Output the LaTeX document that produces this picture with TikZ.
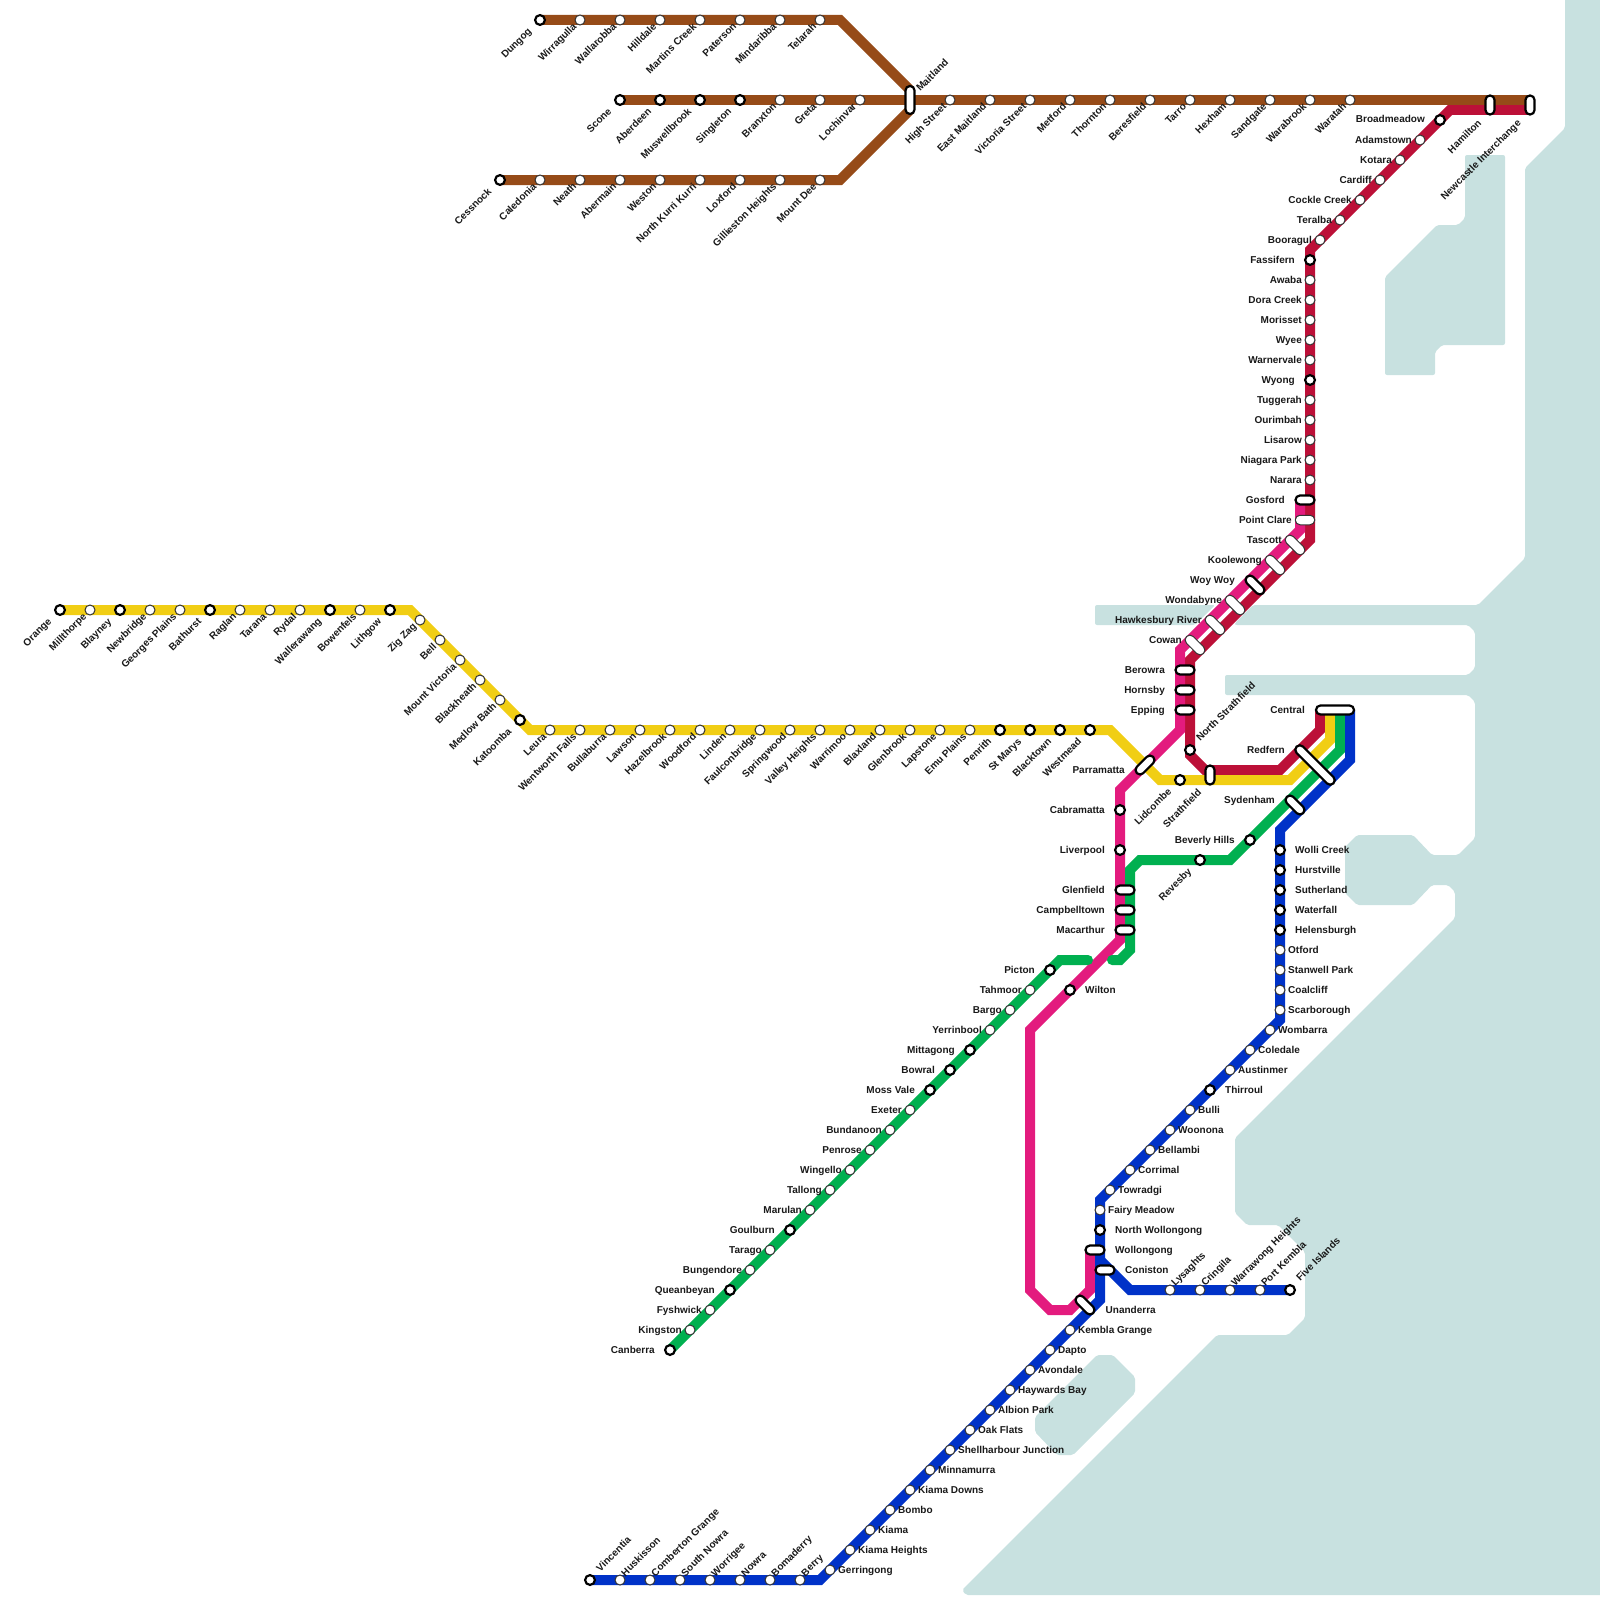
\documentclass[tikz,border=0pt]{standalone}
\usepackage{fontspec}
\setmainfont{Liberation Sans}
\usetikzlibrary{calc}
\pgfdeclarelayer{water}
\pgfdeclarelayer{lines}
\pgfsetlayers{water,lines,main}
\definecolor{cwater}{HTML}{C8E1E0}
\definecolor{cbrown}{HTML}{964B18}
\definecolor{cyellow}{HTML}{F1CE14}
\definecolor{cred}{HTML}{BC1038}
\definecolor{cmag}{HTML}{E31B7E}
\definecolor{cgreen}{HTML}{00B050}
\definecolor{cblue}{HTML}{0032C8}
\definecolor{cring}{HTML}{333333}
\tikzset{
  sb/.style={circle,draw=black,line width=2.2pt,fill=white,minimum size=9.8pt,inner sep=0pt},
  sg/.style={circle,draw=cring,line width=1pt,fill=white,minimum size=10pt,inner sep=0pt},
  pb/.style={rectangle,draw=black,line width=2.2pt,fill=white,minimum height=9pt,rounded corners=4.4pt,inner sep=0pt},
  pg/.style={rectangle,draw=cring,line width=1pt,fill=white,minimum height=9.5pt,rounded corners=4.7pt,inner sep=0pt},
  lab/.style={font=\fontsize{10}{12}\selectfont\bfseries,text=black!90,inner sep=0pt,text height=6pt,text depth=0pt},
  dlg/.style={xshift=-5pt,yshift=-5pt,rotate=45,anchor=east},
  dlb/.style={xshift=-10pt,yshift=-10pt,rotate=45,anchor=east},
  urg/.style={xshift=3pt,yshift=5pt,rotate=45,anchor=west},
  urb/.style={xshift=8pt,yshift=10pt,rotate=45,anchor=west},
  rg/.style={xshift=8pt,anchor=west},
  rb/.style={xshift=15pt,anchor=west},
  lg/.style={xshift=-8pt,anchor=east},
  lb/.style={xshift=-15pt,anchor=east},
  rail/.style={line width=10pt,line join=miter,line cap=butt},
  sea/.style={fill=cwater,draw=none,rounded corners=2pt}
}
\newcommand{\sta}[6]{\node[#1] (#2) at (#3,#4) {}; \node[lab,#5] (#2-t) at (#3,#4) {#6};}
\newcommand{\pil}[6]{\node[#1,minimum width=#5pt,rotate=#6] (#2) at (#3,#4) {};}
\newcommand{\lbl}[5]{\node[lab,#4] (#1-t) at (#2,#3) {#5};}
\begin{document}
\begin{tikzpicture}[x=1pt,y=-1pt]
\useasboundingbox (0,0) rectangle (1600,1600);
% water
\begin{pgfonlayer}{water}
\fill[sea] (1600,-5) -- (1565,-5) -- (1565,128) -- (1525,168) -- (1525,558) -- (1478,605) -- (1253,605) -- (1235,623) -- (1235,625) -- (1468,625) -- (1475,632) -- (1475,668) -- (1468,675) -- (1225,675) -- (1225,695) -- (1468,695) -- (1475,702) -- (1475,838) -- (1458,855) -- (1432,855) -- (1413,835) -- (1357,835) -- (1345,847) -- (1345,893) -- (1357,905) -- (1413,905) -- (1432,885) -- (1448,885) -- (1455,892) -- (1455,918) -- (1235,1138) -- (1235,1213) -- (1247,1225) -- (1278,1225) -- (1305,1252) -- (1305,1318) -- (1288,1335) -- (1217,1335) -- (962,1590) -- (966,1595) -- (1605,1595) -- (1605,-5) -- cycle;
\fill[sea] (1095,605) -- (1215,605) -- (1195,625) -- (1095,625) -- cycle;
\fill[sea] (1465,155) -- (1505,155) -- (1505,345) -- (1442,345) -- (1435,352) -- (1435,375) -- (1385,375) -- (1385,277) -- (1437,225) -- (1458,225) -- (1465,218) -- cycle;
\fill[sea] (1097,1355) -- (1113,1355) -- (1135,1377) -- (1135,1393) -- (1073,1455) -- (1057,1455) -- (1035,1432) -- (1035,1417) -- cycle;
\end{pgfonlayer}
% corner coordinates
\coordinate (bA) at (840,20); \coordinate (bB) at (910,90);
\coordinate (bC) at (840,180); \coordinate (bD) at (910,110);
\coordinate (yA) at (410,610); \coordinate (yB) at (530,730); \coordinate (yC) at (1110,730); \coordinate (yD) at (1160,780); \coordinate (yE) at (1290,780); \coordinate (yF) at (1330,740); \coordinate (yG) at (1330,710);
\coordinate (rA) at (1530,110); \coordinate (rB) at (1450,110); \coordinate (rC) at (1310,250); \coordinate (rD) at (1310,540); \coordinate (rE) at (1190,660); \coordinate (rF) at (1190,755); \coordinate (rG) at (1205,770); \coordinate (rH) at (1280,770); \coordinate (rI) at (1320,730); \coordinate (rJ) at (1320,710);
\coordinate (mA) at (1300,500); \coordinate (mB) at (1300,530); \coordinate (mC) at (1180,650); \coordinate (mD) at (1180,730); \coordinate (mE) at (1120,790); \coordinate (mF) at (1120,940); \coordinate (mG) at (1030,1030); \coordinate (mH) at (1030,1290); \coordinate (mI) at (1050,1310); \coordinate (mJ) at (1070,1310); \coordinate (mK) at (1090,1290); \coordinate (mL) at (1090,1250);
\coordinate (gA) at (1060,960); \coordinate (gB) at (1088,960); \coordinate (gC) at (1112,960); \coordinate (gD) at (1120,960); \coordinate (gE) at (1130,950); \coordinate (gF) at (1130,870); \coordinate (gG) at (1140,860); \coordinate (gH) at (1230,860); \coordinate (gI) at (1340,750); \coordinate (gJ) at (1340,710);
\coordinate (uA) at (820,1580); \coordinate (uB) at (1100,1300); \coordinate (uC) at (1100,1200); \coordinate (uD) at (1280,1020); \coordinate (uE) at (1280,830); \coordinate (uF) at (1350,760); \coordinate (uG) at (1350,710); \coordinate (uH) at (1100,1260); \coordinate (uI) at (1130,1290);
% brown top
\sta{sb}{dungog}{540}{20}{dlb}{Dungog}
\sta{sg}{wirragulla}{580}{20}{dlg}{Wirragulla}
\sta{sg}{wallarobba}{620}{20}{dlg}{Wallarobba}
\sta{sg}{hilldale}{660}{20}{dlg}{Hilldale}
\sta{sg}{martins}{700}{20}{dlg}{Martins Creek}
\sta{sg}{paterson}{740}{20}{dlg}{Paterson}
\sta{sg}{mindaribba}{780}{20}{dlg}{Mindaribba}
\sta{sg}{telarah}{820}{20}{dlg}{Telarah}
% brown middle
\sta{sb}{scone}{620}{100}{dlb}{Scone}
\sta{sb}{aberdeen}{660}{100}{dlb}{Aberdeen}
\sta{sb}{muswellbrook}{700}{100}{dlb}{Muswellbrook}
\sta{sb}{singleton}{740}{100}{dlb}{Singleton}
\sta{sg}{branxton}{780}{100}{dlg}{Branxton}
\sta{sg}{greta}{820}{100}{dlg}{Greta}
\sta{sg}{lochinvar}{860}{100}{dlg}{Lochinvar}
\pil{pb}{maitland}{910}{100}{28}{90}
\lbl{maitland}{918}{90}{rotate=45,anchor=west}{Maitland}
\sta{sg}{highst}{950}{100}{dlg}{High Street}
\sta{sg}{eastmaitland}{990}{100}{dlg}{East Maitland}
\sta{sg}{victoriast}{1030}{100}{dlg}{Victoria Street}
\sta{sg}{metford}{1070}{100}{dlg}{Metford}
\sta{sg}{thornton}{1110}{100}{dlg}{Thornton}
\sta{sg}{beresfield}{1150}{100}{dlg}{Beresfield}
\sta{sg}{tarro}{1190}{100}{dlg}{Tarro}
\sta{sg}{hexham}{1230}{100}{dlg}{Hexham}
\sta{sg}{sandgate}{1270}{100}{dlg}{Sandgate}
\sta{sg}{warabrook}{1310}{100}{dlg}{Warabrook}
\sta{sg}{waratah}{1350}{100}{dlg}{Waratah}
\pil{pb}{hamilton}{1490}{105}{19}{90}
\lbl{hamilton}{1480}{121.5}{rotate=45,anchor=east}{Hamilton}
\pil{pb}{newcastle}{1530}{105}{19}{90}
\lbl{newcastle}{1519.5}{121.5}{rotate=45,anchor=east}{Newcastle Interchange}
% brown lower
\sta{sb}{cessnock}{500}{180}{dlb}{Cessnock}
\sta{sg}{caledonia}{540}{180}{dlg}{Caledonia}
\sta{sg}{neath}{580}{180}{dlg}{Neath}
\sta{sg}{abermain}{620}{180}{dlg}{Abermain}
\sta{sg}{weston}{660}{180}{dlg}{Weston}
\sta{sg}{kurri}{700}{180}{dlg}{North Kurri Kurri}
\sta{sg}{loxford}{740}{180}{dlg}{Loxford}
\sta{sg}{gillieston}{780}{180}{dlg}{Gillieston Heights}
\sta{sg}{mountdee}{820}{180}{dlg}{Mount Dee}
% yellow
\sta{sb}{orange}{60}{610}{dlb}{Orange}
\sta{sg}{millthorpe}{90}{610}{dlg}{Millthorpe}
\sta{sb}{blayney}{120}{610}{dlb}{Blayney}
\sta{sg}{newbridge}{150}{610}{dlg}{Newbridge}
\sta{sg}{georges}{180}{610}{dlg}{Georges Plains}
\sta{sb}{bathurst}{210}{610}{dlb}{Bathurst}
\sta{sg}{raglan}{240}{610}{dlg}{Raglan}
\sta{sg}{tarana}{270}{610}{dlg}{Tarana}
\sta{sg}{rydal}{300}{610}{dlg}{Rydal}
\sta{sb}{wallerawang}{330}{610}{dlb}{Wallerawang}
\sta{sg}{bowenfels}{360}{610}{dlg}{Bowenfels}
\sta{sb}{lithgow}{390}{610}{dlb}{Lithgow}
\sta{sg}{zigzag}{420}{620}{dlg}{Zig Zag}
\sta{sg}{bell}{440}{640}{dlg}{Bell}
\sta{sg}{mtvictoria}{460}{660}{dlg}{Mount Victoria}
\sta{sg}{blackheath}{480}{680}{dlg}{Blackheath}
\sta{sg}{medlow}{500}{700}{dlg}{Medlow Bath}
\sta{sb}{katoomba}{520}{720}{dlb}{Katoomba}
\sta{sg}{leura}{550}{730}{dlg}{Leura}
\sta{sg}{wentworth}{580}{730}{dlg}{Wentworth Falls}
\sta{sg}{bullaburra}{610}{730}{dlg}{Bullaburra}
\sta{sg}{lawson}{640}{730}{dlg}{Lawson}
\sta{sg}{hazelbrook}{670}{730}{dlg}{Hazelbrook}
\sta{sg}{woodford}{700}{730}{dlg}{Woodford}
\sta{sg}{linden}{730}{730}{dlg}{Linden}
\sta{sg}{faulconbridge}{760}{730}{dlg}{Faulconbridge}
\sta{sg}{springwood}{790}{730}{dlg}{Springwood}
\sta{sg}{valley}{820}{730}{dlg}{Valley Heights}
\sta{sg}{warrimoo}{850}{730}{dlg}{Warrimoo}
\sta{sg}{blaxland}{880}{730}{dlg}{Blaxland}
\sta{sg}{glenbrook}{910}{730}{dlg}{Glenbrook}
\sta{sg}{lapstone}{940}{730}{dlg}{Lapstone}
\sta{sg}{emuplains}{970}{730}{dlg}{Emu Plains}
\sta{sb}{penrith}{1000}{730}{dlb}{Penrith}
\sta{sb}{stmarys}{1030}{730}{dlb}{St Marys}
\sta{sb}{blacktown}{1060}{730}{dlb}{Blacktown}
\sta{sb}{westmead}{1090}{730}{dlb}{Westmead}
\pil{pb}{parramatta}{1145}{765}{23}{45}
\lbl{parramatta}{1125}{770}{anchor=east}{Parramatta}
\sta{sb}{lidcombe}{1180}{780}{dlb}{Lidcombe}
\pil{pb}{strathfield}{1210}{775}{19}{90}
\lbl{strathfield}{1200}{791}{rotate=45,anchor=east}{Strathfield}
\sta{sb}{northstrath}{1190}{750}{urb}{North Strathfield}
% red
\sta{sb}{fassifern}{1310}{260}{lb}{Fassifern}
\sta{sg}{awaba}{1310}{280}{lg}{Awaba}
\sta{sg}{doracreek}{1310}{300}{lg}{Dora Creek}
\sta{sg}{morisset}{1310}{320}{lg}{Morisset}
\sta{sg}{wyee}{1310}{340}{lg}{Wyee}
\sta{sg}{warnervale}{1310}{360}{lg}{Warnervale}
\sta{sb}{wyong}{1310}{380}{lb}{Wyong}
\sta{sg}{tuggerah}{1310}{400}{lg}{Tuggerah}
\sta{sg}{ourimbah}{1310}{420}{lg}{Ourimbah}
\sta{sg}{lisarow}{1310}{440}{lg}{Lisarow}
\sta{sg}{niagara}{1310}{460}{lg}{Niagara Park}
\sta{sg}{narara}{1310}{480}{lg}{Narara}
\sta{sg}{booragul}{1320}{240}{lg}{Booragul}
\sta{sg}{teralba}{1340}{220}{lg}{Teralba}
\sta{sg}{cockle}{1360}{200}{lg}{Cockle Creek}
\sta{sg}{cardiff}{1380}{180}{lg}{Cardiff}
\sta{sg}{kotara}{1400}{160}{lg}{Kotara}
\sta{sg}{adamstown}{1420}{140}{lg}{Adamstown}
\sta{sb}{broadmeadow}{1440}{120}{lb}{Broadmeadow}
\pil{pb}{gosford}{1305}{500}{19}{0}
\lbl{gosford}{1285}{500}{anchor=east}{Gosford}
\pil{pg}{pointclare}{1305}{520}{19.5}{0}
\lbl{pointclare}{1292}{520}{anchor=east}{Point Clare}
\pil{pg}{tascott}{1295}{545}{24}{-45}
\lbl{tascott}{1282}{540}{anchor=east}{Tascott}
\pil{pg}{koolewong}{1275}{565}{24}{-45}
\lbl{koolewong}{1262}{560}{anchor=east}{Koolewong}
\pil{pb}{woywoy}{1255}{585}{23}{-45}
\lbl{woywoy}{1235}{580}{anchor=east}{Woy Woy}
\pil{pg}{wondabyne}{1235}{605}{24}{-45}
\lbl{wondabyne}{1222}{600}{anchor=east}{Wondabyne}
\pil{pg}{hawkesbury}{1215}{625}{24}{-45}
\lbl{hawkesbury}{1202}{620}{anchor=east}{Hawkesbury River}
\pil{pg}{cowan}{1195}{645}{24}{-45}
\lbl{cowan}{1182}{640}{anchor=east}{Cowan}
\pil{pb}{berowra}{1185}{670}{19}{0}
\lbl{berowra}{1165}{670}{anchor=east}{Berowra}
\pil{pb}{hornsby}{1185}{690}{19}{0}
\lbl{hornsby}{1165}{690}{anchor=east}{Hornsby}
\pil{pb}{epping}{1185}{710}{19}{0}
\lbl{epping}{1165}{710}{anchor=east}{Epping}
\pil{pb}{central}{1335}{710}{38}{0}
\lbl{central}{1305}{710}{anchor=east}{Central}
\pil{pb}{redfern}{1315}{765}{52}{-45}
\lbl{redfern}{1285}{750}{anchor=east}{Redfern}
\pil{pb}{sydenham}{1295}{805}{23}{-45}
\lbl{sydenham}{1275}{800}{anchor=east}{Sydenham}
% magenta, green
\sta{sb}{cabramatta}{1120}{810}{lb}{Cabramatta}
\sta{sb}{liverpool}{1120}{850}{lb}{Liverpool}
\pil{pb}{glenfield}{1125}{890}{19}{0}
\lbl{glenfield}{1105}{890}{anchor=east}{Glenfield}
\pil{pb}{campbelltown}{1125}{910}{19}{0}
\lbl{campbelltown}{1105}{910}{anchor=east}{Campbelltown}
\pil{pb}{macarthur}{1125}{930}{19}{0}
\lbl{macarthur}{1105}{930}{anchor=east}{Macarthur}
\sta{sb}{wilton}{1070}{990}{rb}{Wilton}
\sta{sb}{beverly}{1250}{840}{lb}{Beverly Hills}
\sta{sb}{revesby}{1200}{860}{dlb}{Revesby}
\sta{sb}{picton}{1050}{970}{lb}{Picton}
\sta{sg}{tahmoor}{1030}{990}{lg}{Tahmoor}
\sta{sg}{bargo}{1010}{1010}{lg}{Bargo}
\sta{sg}{yerrinbool}{990}{1030}{lg}{Yerrinbool}
\sta{sb}{mittagong}{970}{1050}{lb}{Mittagong}
\sta{sb}{bowral}{950}{1070}{lb}{Bowral}
\sta{sb}{mossvale}{930}{1090}{lb}{Moss Vale}
\sta{sg}{exeter}{910}{1110}{lg}{Exeter}
\sta{sg}{bundanoon}{890}{1130}{lg}{Bundanoon}
\sta{sg}{penrose}{870}{1150}{lg}{Penrose}
\sta{sg}{wingello}{850}{1170}{lg}{Wingello}
\sta{sg}{tallong}{830}{1190}{lg}{Tallong}
\sta{sg}{marulan}{810}{1210}{lg}{Marulan}
\sta{sb}{goulburn}{790}{1230}{lb}{Goulburn}
\sta{sg}{tarago}{770}{1250}{lg}{Tarago}
\sta{sg}{bungendore}{750}{1270}{lg}{Bungendore}
\sta{sb}{queanbeyan}{730}{1290}{lb}{Queanbeyan}
\sta{sg}{fyshwick}{710}{1310}{lg}{Fyshwick}
\sta{sg}{kingston}{690}{1330}{lg}{Kingston}
\sta{sb}{canberra}{670}{1350}{lb}{Canberra}
% blue
\sta{sb}{wolli}{1280}{850}{rb}{Wolli Creek}
\sta{sb}{hurstville}{1280}{870}{rb}{Hurstville}
\sta{sb}{sutherland}{1280}{890}{rb}{Sutherland}
\sta{sb}{waterfall}{1280}{910}{rb}{Waterfall}
\sta{sb}{helensburgh}{1280}{930}{rb}{Helensburgh}
\sta{sg}{otford}{1280}{950}{rg}{Otford}
\sta{sg}{stanwell}{1280}{970}{rg}{Stanwell Park}
\sta{sg}{coalcliff}{1280}{990}{rg}{Coalcliff}
\sta{sg}{scarborough}{1280}{1010}{rg}{Scarborough}
\sta{sg}{wombarra}{1270}{1030}{rg}{Wombarra}
\sta{sg}{coledale}{1250}{1050}{rg}{Coledale}
\sta{sg}{austinmer}{1230}{1070}{rg}{Austinmer}
\sta{sb}{thirroul}{1210}{1090}{rb}{Thirroul}
\sta{sg}{bulli}{1190}{1110}{rg}{Bulli}
\sta{sg}{woonona}{1170}{1130}{rg}{Woonona}
\sta{sg}{bellambi}{1150}{1150}{rg}{Bellambi}
\sta{sg}{corrimal}{1130}{1170}{rg}{Corrimal}
\sta{sg}{towradgi}{1110}{1190}{rg}{Towradgi}
\sta{sg}{fairy}{1100}{1210}{rg}{Fairy Meadow}
\sta{sb}{northwoll}{1100}{1230}{rb}{North Wollongong}
\pil{pb}{wollongong}{1095}{1250}{19}{0}
\lbl{wollongong}{1115}{1250}{anchor=west}{Wollongong}
\pil{pb}{coniston}{1105}{1270}{19}{0}
\lbl{coniston}{1125}{1270}{anchor=west}{Coniston}
\pil{pb}{unanderra}{1085}{1305}{23}{-45}
\lbl{unanderra}{1105.5}{1310}{anchor=west}{Unanderra}
\sta{sg}{lysaghts}{1170}{1290}{urg}{Lysaghts}
\sta{sg}{cringila}{1200}{1290}{urg}{Cringila}
\sta{sg}{warrawong}{1230}{1290}{urg}{Warrawong Heights}
\sta{sg}{portkembla}{1260}{1290}{urg}{Port Kembla}
\sta{sb}{fiveislands}{1290}{1290}{urb}{Five Islands}
\sta{sg}{kembla}{1070}{1330}{rg}{Kembla Grange}
\sta{sg}{dapto}{1050}{1350}{rg}{Dapto}
\sta{sg}{avondale}{1030}{1370}{rg}{Avondale}
\sta{sg}{haywards}{1010}{1390}{rg}{Haywards Bay}
\sta{sg}{albion}{990}{1410}{rg}{Albion Park}
\sta{sg}{oakflats}{970}{1430}{rg}{Oak Flats}
\sta{sg}{shellharbour}{950}{1450}{rg}{Shellharbour Junction}
\sta{sg}{minnamurra}{930}{1470}{rg}{Minnamurra}
\sta{sg}{kiamadowns}{910}{1490}{rg}{Kiama Downs}
\sta{sg}{bombo}{890}{1510}{rg}{Bombo}
\sta{sg}{kiama}{870}{1530}{rg}{Kiama}
\sta{sg}{kiamaheights}{850}{1550}{rg}{Kiama Heights}
\sta{sg}{gerringong}{830}{1570}{rg}{Gerringong}
\sta{sb}{vincentia}{590}{1580}{urb}{Vincentia}
\sta{sg}{huskisson}{620}{1580}{urg}{Huskisson}
\sta{sg}{comberton}{650}{1580}{urg}{Comberton Grange}
\sta{sg}{southnowra}{680}{1580}{urg}{South Nowra}
\sta{sg}{worrigee}{710}{1580}{urg}{Worrigee}
\sta{sg}{nowra}{740}{1580}{urg}{Nowra}
\sta{sg}{bomaderry}{770}{1580}{urg}{Bomaderry}
\sta{sg}{berry}{800}{1580}{urg}{Berry}
% lines
\begin{pgfonlayer}{lines}
\draw[rail,cbrown] (dungog.center) -- (bA) -- (bB);
\draw[rail,cbrown] (cessnock.center) -- (bC) -- (bD);
\draw[rail,cred] (rA) -- (rB) -- (rC) -- (rD) -- (rE) -- (rF) -- (rG) -- (rH) -- (rI) -- (rJ);
\draw[rail,cbrown] (scone.center) -- (newcastle.center |- scone.center);
\draw[rail,cyellow] (orange.center) -- (yA) -- (yB) -- (yC) -- (yD) -- (yE) -- (yF) -- (yG);
\draw[rail,cmag] (mA) -- (mB) -- (mC) -- (mD) -- (mE) -- (mF) -- (mG) -- (mH) -- (mI) -- (mJ) -- (mK) -- (mL);
\draw[rail,cgreen,line cap=round] (canberra.center) -- (gA) -- (gB);
\draw[rail,cgreen,line cap=round] (gC) -- (gD) -- (gE) -- (gF) -- (gG) -- (gH) -- (gI) -- (gJ);
\draw[rail,cblue] (vincentia.center) -- (uA) -- (uB) -- (uC) -- (uD) -- (uE) -- (uF) -- (uG);
\draw[rail,cblue] (uH) -- (uI) -- (fiveislands.center);
\end{pgfonlayer}
\end{tikzpicture}
\end{document}
